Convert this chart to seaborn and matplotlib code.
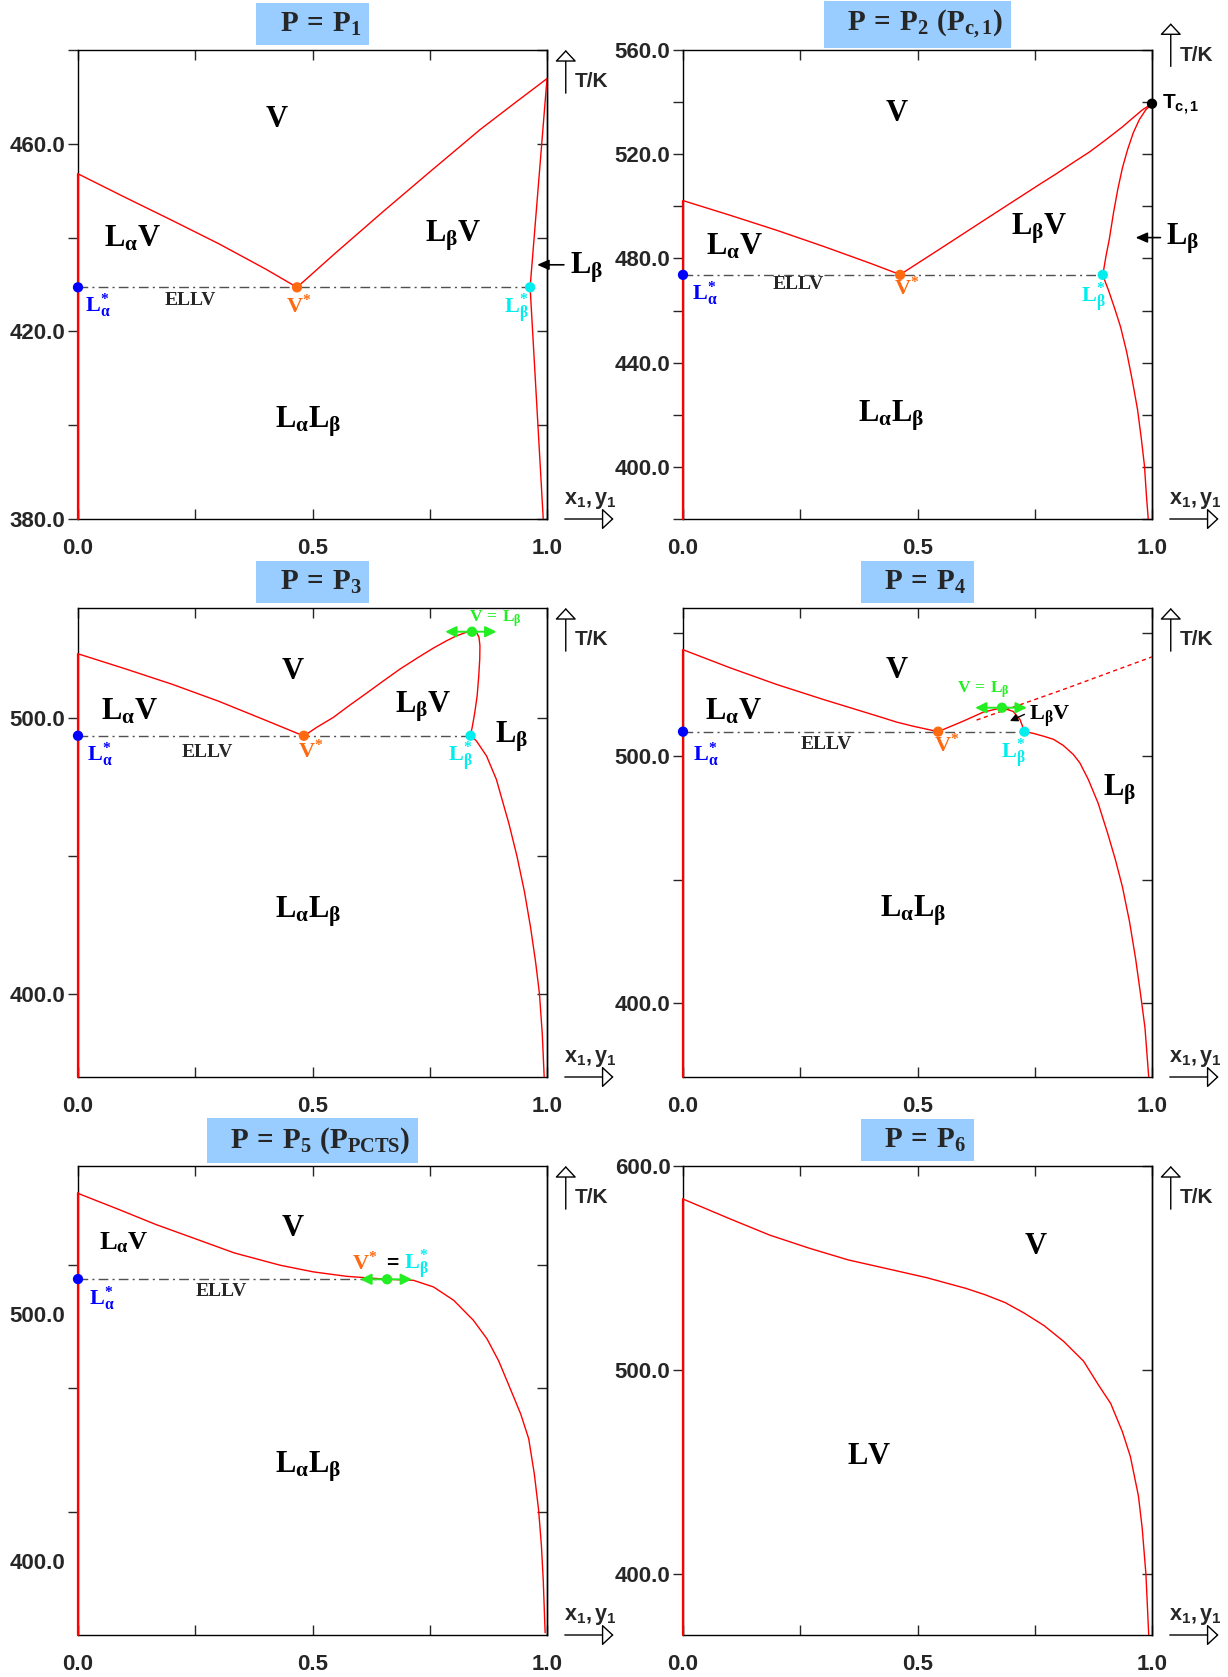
import matplotlib
matplotlib.use("Agg")
import matplotlib.pyplot as plt
import seaborn as sns

# ------------------------------------------------------------------ data
X_TICKS = [0.0, 0.25, 0.5, 0.75, 1.0]
X_TICKLABELS = ["0.0", "", "0.5", "", "1.0"]

# Panel 1 : P = P1
p1_ylim = (380, 480)
p1_ticks = [380, 400, 420, 440, 460, 480]
p1_labels = [380, 420, 460]
p1_T3 = 429.4
p1_left_T = 453.6
p1_dewA_x = [0.0, 0.1, 0.2, 0.3, 0.4, 0.467]
p1_dewA_T = [453.6, 448.6, 443.7, 438.7, 433.3, 429.4]
p1_dewB_x = [0.467, 0.55, 0.65, 0.75, 0.857, 0.93, 1.0]
p1_dewB_T = [429.4, 436.8, 445.5, 454.0, 463.0, 468.6, 473.9]
p1_Lb_x = [1.0, 0.964, 0.992]
p1_Lb_T = [473.9, 429.4, 380.0]
p1_pts_x = [0.0, 0.467, 0.964]

# Panel 2 : P = P2 (Pc,1)
p2_ylim = (380, 560)
p2_ticks = [380, 400, 420, 440, 460, 480, 500, 520, 540, 560]
p2_labels = [400, 440, 480, 520, 560]
p2_T3 = 473.7
p2_left_T = 502.2
p2_dewA_x = [0.0, 0.1, 0.2, 0.3, 0.4, 0.463]
p2_dewA_T = [502.2, 496.6, 490.8, 484.6, 478.1, 473.8]
p2_dewB_x = [0.463, 0.55, 0.65, 0.76, 0.796, 0.831, 0.867, 0.902, 0.937, 0.959, 0.98, 1.0]
p2_dewB_T = [473.8, 483.9, 495.6, 508.4, 512.5, 516.7, 520.9, 525.6, 530.5, 533.9, 537.1, 539.4]
p2_Lb_x = [1.0, 0.987, 0.973, 0.960, 0.948, 0.937, 0.927, 0.918, 0.909, 0.902, 0.895,
           0.908, 0.921, 0.933, 0.946, 0.958, 0.969, 0.977, 0.984, 0.988, 0.992]
p2_Lb_T = [539.4, 537.1, 533.3, 528.2, 521.8, 514.8, 506.5, 497.6, 487.4, 481.0, 473.6,
           467.4, 460.5, 453.7, 444.1, 433.2, 422.2, 411.2, 400.3, 389.3, 380.0]
p2_pts_x = [0.0, 0.463, 0.895]
p2_Tc = (1.0, 539.4)

# Panel 3 : P = P3
p3_ylim = (370, 540)
p3_ticks = [400, 450, 500]
p3_labels = [400, 500]
p3_T3 = 493.7
p3_left_T = 523.4
p3_dewA_x = [0.0, 0.1, 0.2, 0.3, 0.4, 0.4816]
p3_dewA_T = [523.4, 518.0, 512.4, 506.2, 499.3, 493.6]
p3_dewB_x = [0.4816, 0.5086, 0.544, 0.5796, 0.615, 0.6506, 0.686, 0.7217, 0.757,
             0.7856, 0.807, 0.828, 0.840]
p3_dewB_T = [493.6, 496.7, 500.3, 504.8, 509.1, 513.5, 517.8, 521.7, 525.4,
             528.1, 529.9, 531.2, 531.4]
p3_Lb_x = [0.840, 0.8495, 0.855, 0.857, 0.8566, 0.8545, 0.851, 0.846, 0.841, 0.837,
           0.8495, 0.871, 0.892, 0.919, 0.936, 0.952, 0.965, 0.976, 0.984, 0.990, 0.994]
p3_Lb_T = [531.4, 531.2, 529.4, 526.3, 521.5, 515.4, 508.1, 502.1, 497.2, 493.9,
           491.8, 486.4, 477.9, 461.7, 450.0, 437.1, 424.2, 411.3, 400.0, 385.4, 370.0]
p3_pts_x = [0.0, 0.4816, 0.837]
p3_crit = (0.840, 531.4)

# Panel 4 : P = P4
p4_ylim = (370, 560)
p4_ticks = [400, 450, 500, 550]
p4_labels = [400, 500]
p4_T3 = 509.9
p4_left_T = 543.1
p4_dewA_x = [0.0, 0.1, 0.2, 0.3, 0.42, 0.455, 0.491, 0.544]
p4_dewA_T = [543.1, 535.8, 529.0, 522.9, 515.9, 513.8, 512.1, 509.9]
p4_dewB_x = [0.544, 0.598, 0.640, 0.680]
p4_dewB_T = [509.9, 514.2, 517.8, 519.6]
p4_Lb_x = [0.680, 0.704, 0.7186, 0.728, 0.747, 0.768, 0.790, 0.811, 0.832, 0.846,
           0.864, 0.885, 0.905, 0.922, 0.937, 0.952, 0.965, 0.976, 0.985, 0.993]
p4_Lb_T = [519.6, 518.1, 514.8, 510.0, 509.2, 508.1, 506.8, 504.3, 500.7, 497.3,
           490.6, 481.0, 469.0, 458.0, 447.0, 433.0, 418.0, 403.0, 390.0, 370.0]
p4_meta_x = [0.626, 0.811, 1.0]
p4_meta_T = [514.6, 527.0, 540.2]
p4_pts_x = [0.0, 0.544, 0.728]
p4_crit = (0.680, 519.6)

# Panel 5 : P = P5 (PPCTS)
p5_ylim = (370, 560)
p5_ticks = [420, 470, 520]
p5_labels = [400, 500]
p5_T3 = 514.2
p5_left_T = 548.9
p5_curve_x = [0.0, 0.083, 0.166, 0.249, 0.333, 0.431, 0.502, 0.573, 0.659, 0.715,
              0.758, 0.801, 0.843, 0.872, 0.897, 0.919, 0.944, 0.961, 0.973, 0.982,
              0.988, 0.992, 0.996]
p5_curve_T = [548.9, 542.7, 536.3, 530.6, 524.8, 519.8, 517.1, 515.3, 514.1, 513.7,
              511.0, 505.6, 497.5, 490.0, 481.0, 471.0, 459.5, 449.5, 435.2, 420.8,
              406.5, 392.2, 370.9]
p5_pcts = (0.659, 514.1)

# Panel 6 : P = P6
p6_ylim = (370, 600)
p6_ticks = [400, 500, 600]
p6_labels = [400, 500, 600]
p6_left_T = 583.8
p6_curve_x = [0.0, 0.102, 0.185, 0.269, 0.353, 0.436, 0.520, 0.603, 0.645, 0.687, 0.728,
              0.770, 0.812, 0.854, 0.887, 0.912, 0.937, 0.954, 0.971, 0.979, 0.987, 0.993]
p6_curve_T = [583.8, 573.9, 566.1, 559.7, 553.9, 549.6, 545.2, 540.0, 536.8, 533.0, 527.8,
              521.7, 513.9, 504.3, 492.2, 483.5, 469.6, 457.4, 438.3, 422.6, 400.0, 370.0]

TITLES = [r"$\ \ P\,=\,P_1\ \ $", r"$\ \ P\,=\,P_2\ (P_{c,1})\ \ $", r"$\ \ P\,=\,P_3\ \ $",
          r"$\ \ P\,=\,P_4\ \ $", r"$\ \ P\,=\,P_5\ (P_{PCTS})\ \ $", r"$\ \ P\,=\,P_6\ \ $"]

# ------------------------------------------------------------------ style
sns.set_style("ticks")
plt.rcParams.update({
    "font.family": ["Liberation Sans", "DejaVu Sans"],
    "font.weight": "bold",
    "mathtext.fontset": "custom",
    "mathtext.rm": "Liberation Serif:bold",
    "mathtext.it": "Liberation Serif:bold",
    "mathtext.bf": "Liberation Serif:bold",
    "mathtext.sf": "Liberation Sans:bold",
    "mathtext.default": "rm",
    "axes.linewidth": 1.0,
    "axes.edgecolor": "black",
})

RED = "#ff0000"
BLUE = "#0000ff"
ORANGE = "#ff6a10"
CYAN = "#00eeee"
GREEN = "#22ee22"
GRAYL = "#505050"
SERIF_BIG = 22
TICK_FS = 16
W, H = 1228, 1677

fig = plt.figure(figsize=(W / 100, H / 100), dpi=100)
lefts = [78 / W, 683 / W]
tops = [50, 608, 1166]
aw, ah = 469 / W, 469 / H
axes = []
for r in range(3):
    for c in range(2):
        axes.append(fig.add_axes([lefts[c], 1 - (tops[r] + 469) / H, aw, ah]))


def curve(ax, xs, ts, ls="-", lw=1.0, color=RED):
    sns.lineplot(x=xs, y=ts, sort=False, estimator=None, ax=ax, color=color,
                 lw=lw, linestyle=ls, zorder=3)


def left_line(ax, ylim, top):
    l = ax.plot([0, 0], [ylim[0], top], color=RED, lw=1.6, zorder=6)
    l[0].set_clip_on(False)


def pts(ax, xs, ys, colors):
    for x, y, col in zip(xs, ys, colors):
        sns.scatterplot(x=[x], y=[y], color=col, s=55, ax=ax, zorder=7,
                        edgecolor="none", clip_on=False)


def setup(ax, ylim, ticks, labels, title, tk_shift=0.0, label_ticks=True):
    ax.set_xlim(0, 1)
    ax.set_ylim(*ylim)
    ax.set_xticks(X_TICKS)
    ax.set_xticklabels(X_TICKLABELS, fontsize=TICK_FS, fontweight="bold")
    ax.tick_params(axis="x", direction="in", top=True, bottom=True, length=7,
                   width=1, pad=14)
    ax.set_yticks(ticks)
    if label_ticks:
        ax.set_yticklabels([f"{t:.1f}" if t in labels else "" for t in ticks],
                           fontsize=TICK_FS, fontweight="bold")
    else:
        ax.set_yticklabels([""] * len(ticks))
        ax.set_yticks(labels, minor=True)
        ax.set_yticklabels([f"{t:.1f}" for t in labels], minor=True,
                           fontsize=TICK_FS, fontweight="bold")
        ax.tick_params(axis="y", which="minor", length=0, pad=9)
    ax.tick_params(axis="y", which="major", direction="out", left=True,
                   right=False, length=7, width=1, pad=2)
    sec = ax.secondary_yaxis("right")
    sec.set_yticks(ticks)
    sec.set_yticklabels([])
    sec.tick_params(direction="in", length=7, width=1)
    for s in ax.spines.values():
        s.set_color("black")
        s.set_linewidth(1.0)
    ax.set_xlabel("")
    ax.set_ylabel("")
    # title box
    ax.text(0.5, 1.055, title, transform=ax.transAxes, ha="center",
            va="center", fontsize=21,
            bbox=dict(boxstyle="square,pad=0.25", fc="#99ccff", ec="none"))
    # T/K arrow
    ytop = 1.0 + tk_shift
    ax.annotate("", xy=(1.04, ytop), xytext=(1.04, ytop - 0.092),
                xycoords="axes fraction", annotation_clip=False,
                arrowprops=dict(arrowstyle="-|>,head_length=0.45,head_width=0.42",
                                fc="white", ec="black", lw=1.0,
                                mutation_scale=16, shrinkA=0, shrinkB=0))
    ax.text(1.06, ytop - 0.068, "T/K", transform=ax.transAxes, ha="left",
            va="center", fontsize=15, fontweight="bold")
    # x1,y1 arrow
    ax.annotate("", xy=(1.142, 0.0), xytext=(1.038, 0.0),
                xycoords="axes fraction", annotation_clip=False,
                arrowprops=dict(arrowstyle="-|>,head_length=0.45,head_width=0.42",
                                fc="white", ec="black", lw=1.0,
                                mutation_scale=16, shrinkA=0, shrinkB=0))
    ax.text(1.036, 0.040, r"$\mathsf{x_1,y_1}$", transform=ax.transAxes,
            ha="left", va="center", fontsize=15.5)


def txt(ax, x, y, s, size=SERIF_BIG, color="black", ha="center"):
    ax.text(x, y, s, ha=ha, va="center", fontsize=size, color=color,
            clip_on=False, zorder=8)


def ellv_label(ax, x, y):
    ax.text(x, y, "ELLV", ha="center", va="center", fontsize=14,
            fontfamily="Liberation Serif", fontweight="bold", zorder=8)


def ellv(ax, x_end, T3):
    curve(ax, [0.0, x_end], [T3, T3], ls=(0, (7, 3, 1.5, 3)), lw=1.0, color=GRAYL)


def side_arrow(ax, y, x_from, x_to, label_x, label_y):
    ax.annotate("", xy=(x_to, y), xytext=(x_from, y), annotation_clip=False,
                arrowprops=dict(arrowstyle="-|>,head_length=0.5,head_width=0.22",
                                color="black", lw=1.2, mutation_scale=14,
                                shrinkA=0, shrinkB=0))
    txt(ax, label_x, label_y, r"$L_{\beta}$", ha="left")


def green_arrow(ax, x0, x1, y):
    ax.annotate("", xy=(x1, y), xytext=(x0, y), annotation_clip=False, zorder=9,
                arrowprops=dict(arrowstyle="<|-|>,head_length=0.6,head_width=0.3",
                                color=GREEN, lw=1.4, mutation_scale=11,
                                shrinkA=0, shrinkB=0))


# ------------------------------------------------------------------ panel 1
ax = axes[0]
setup(ax, p1_ylim, p1_ticks, p1_labels, TITLES[0])
left_line(ax, p1_ylim, p1_left_T)
ellv(ax, p1_pts_x[2], p1_T3)
curve(ax, p1_dewA_x, p1_dewA_T)
curve(ax, p1_dewB_x, p1_dewB_T)
curve(ax, p1_Lb_x, p1_Lb_T)
pts(ax, p1_pts_x, [p1_T3] * 3, [BLUE, ORANGE, CYAN])
txt(ax, 0.425, 465.3, r"$V$")
txt(ax, 0.117, 439.9, r"$L_{\alpha}V$")
txt(ax, 0.80, 440.3, r"$L_{\beta}V$")
txt(ax, 0.49, 400.8, r"$L_{\alpha}L_{\beta}$")
ellv_label(ax, 0.24, 426.6)
txt(ax, 0.043, 425.4, r"$L_{\alpha}^{*}$", size=16, color=BLUE)
txt(ax, 0.47, 425.4, r"$V^{*}$", size=16, color=ORANGE)
txt(ax, 0.935, 425.0, r"$L_{\beta}^{*}$", size=16, color=CYAN)
side_arrow(ax, 434.2, 1.036, 0.979, 1.049, 433.6)

# ------------------------------------------------------------------ panel 2
ax = axes[1]
setup(ax, p2_ylim, p2_ticks, p2_labels, TITLES[1], tk_shift=0.057)
left_line(ax, p2_ylim, p2_left_T)
ellv(ax, p2_pts_x[2], p2_T3)
curve(ax, p2_dewA_x, p2_dewA_T)
curve(ax, p2_dewB_x, p2_dewB_T)
curve(ax, p2_Lb_x, p2_Lb_T)
pts(ax, p2_pts_x, [p2_T3] * 3, [BLUE, ORANGE, CYAN])
pts(ax, [p2_Tc[0]], [p2_Tc[1]], ["black"])
txt(ax, 1.022, p2_Tc[1] - 0.5, r"$\mathsf{T_{c,1}}$", size=15, ha="left")
txt(ax, 0.457, 535.9, r"$V$")
txt(ax, 0.11, 484.5, r"$L_{\alpha}V$")
txt(ax, 0.76, 491.4, r"$L_{\beta}V$")
txt(ax, 0.445, 419.5, r"$L_{\alpha}L_{\beta}$")
ellv_label(ax, 0.245, 470.1)
txt(ax, 0.046, 466.3, r"$L_{\alpha}^{*}$", size=16, color=BLUE)
txt(ax, 0.476, 468.5, r"$V^{*}$", size=16, color=ORANGE)
txt(ax, 0.874, 465.3, r"$L_{\beta}^{*}$", size=16, color=CYAN)
side_arrow(ax, 488.0, 1.018, 0.965, 1.03, 487.7)

# ------------------------------------------------------------------ panel 3
ax = axes[2]
setup(ax, p3_ylim, p3_ticks, p3_labels, TITLES[2])
left_line(ax, p3_ylim, p3_left_T)
ellv(ax, p3_pts_x[2], p3_T3)
curve(ax, p3_dewA_x, p3_dewA_T)
curve(ax, p3_dewB_x, p3_dewB_T)
curve(ax, p3_Lb_x, p3_Lb_T)
pts(ax, p3_pts_x, [p3_T3] * 3, [BLUE, ORANGE, CYAN])
green_arrow(ax, 0.783, 0.892, p3_crit[1])
pts(ax, [p3_crit[0]], [p3_crit[1]], [GREEN])
txt(ax, 0.89, 536.0, r"$V\,=\,L_{\beta}$", size=12.5, color=GREEN)
txt(ax, 0.459, 517.3, r"$V$")
txt(ax, 0.109, 502.5, r"$L_{\alpha}V$")
txt(ax, 0.735, 504.4, r"$L_{\beta}V$")
txt(ax, 0.925, 493.4, r"$L_{\beta}$")
txt(ax, 0.49, 430.0, r"$L_{\alpha}L_{\beta}$")
ellv_label(ax, 0.275, 487.6)
txt(ax, 0.047, 486.6, r"$L_{\alpha}^{*}$", size=16, color=BLUE)
txt(ax, 0.497, 488.0, r"$V^{*}$", size=16, color=ORANGE)
txt(ax, 0.815, 486.3, r"$L_{\beta}^{*}$", size=16, color=CYAN)

# ------------------------------------------------------------------ panel 4
ax = axes[3]
setup(ax, p4_ylim, p4_ticks, p4_labels, TITLES[3])
left_line(ax, p4_ylim, p4_left_T)
ellv(ax, p4_pts_x[2], p4_T3)
curve(ax, p4_dewA_x, p4_dewA_T)
curve(ax, p4_dewB_x, p4_dewB_T)
curve(ax, p4_Lb_x, p4_Lb_T)
curve(ax, p4_meta_x, p4_meta_T, ls=(0, (3, 2.5)))
pts(ax, p4_pts_x, [p4_T3] * 3, [BLUE, ORANGE, CYAN])
green_arrow(ax, 0.623, 0.733, p4_crit[1])
pts(ax, [p4_crit[0]], [p4_crit[1]], [GREEN])
txt(ax, 0.64, 526.9, r"$V\,=\,L_{\beta}$", size=12.5, color=GREEN)
txt(ax, 0.782, 516.2, r"$L_{\beta}V$", size=16)
ax.annotate("", xy=(0.697, 514.2), xytext=(0.728, 516.9), annotation_clip=False,
            arrowprops=dict(arrowstyle="-|>,head_length=0.5,head_width=0.25",
                            color="black", lw=1.0, mutation_scale=9,
                            shrinkA=0, shrinkB=0))
txt(ax, 0.457, 534.8, r"$V$")
txt(ax, 0.108, 518.2, r"$L_{\alpha}V$")
txt(ax, 0.93, 486.4, r"$L_{\beta}$")
txt(ax, 0.49, 437.3, r"$L_{\alpha}L_{\beta}$")
ellv_label(ax, 0.305, 504.5)
txt(ax, 0.048, 500.6, r"$L_{\alpha}^{*}$", size=16, color=BLUE)
txt(ax, 0.563, 504.3, r"$V^{*}$", size=16, color=ORANGE)
txt(ax, 0.705, 501.3, r"$L_{\beta}^{*}$", size=16, color=CYAN)

# ------------------------------------------------------------------ panel 5
ax = axes[4]
setup(ax, p5_ylim, p5_ticks, p5_labels, TITLES[4], label_ticks=False)
left_line(ax, p5_ylim, p5_left_T)
ellv(ax, p5_pcts[0], p5_T3)
curve(ax, p5_curve_x, p5_curve_T)
pts(ax, [0.0], [p5_T3], [BLUE])
green_arrow(ax, 0.602, 0.712, p5_pcts[1])
pts(ax, [p5_pcts[0]], [p5_pcts[1]], [GREEN])
txt(ax, 0.612, 520.8, r"$V^{*}$", size=16, color=ORANGE)
txt(ax, 0.669, 520.3, "=", size=15)
txt(ax, 0.722, 520.3, r"$L_{\beta}^{*}$", size=16, color=CYAN)
txt(ax, 0.459, 534.9, r"$V$")
txt(ax, 0.097, 529.1, r"$L_{\alpha}V$", size=19)
txt(ax, 0.49, 438.0, r"$L_{\alpha}L_{\beta}$")
ellv_label(ax, 0.305, 509.0)
txt(ax, 0.05, 506.0, r"$L_{\alpha}^{*}$", size=16, color=BLUE)

# ------------------------------------------------------------------ panel 6
ax = axes[5]
setup(ax, p6_ylim, p6_ticks, p6_labels, TITLES[5])
left_line(ax, p6_ylim, p6_left_T)
curve(ax, p6_curve_x, p6_curve_T)
txt(ax, 0.752, 560.9, r"$V$")
txt(ax, 0.396, 458.0, r"$LV$")

fig.savefig("out.png", dpi=100)
